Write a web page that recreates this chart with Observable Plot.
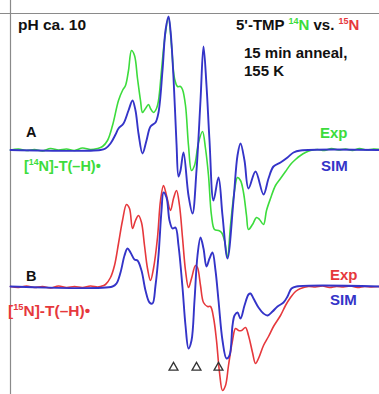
<!DOCTYPE html>
<html>
<head>
<meta charset="utf-8">
<script src="https://cdn.jsdelivr.net/npm/d3@7"></script>
<script src="https://cdn.jsdelivr.net/npm/@observablehq/plot@0.6"></script>
<style>
  html, body { margin: 0; padding: 0; background: #fff; }
  #chart { width: 379px; height: 394px; }
  svg text.lbl { font-family: "Liberation Sans", Arial, Helvetica, sans-serif; font-weight: bold; }
</style>
</head>
<body>
<div id="chart"></div>
<script>
// Field position (arbitrary units along the magnetic-field axis) and signal amplitude
// Spectrum A: [14N]-T(-H)•   Spectrum B: [15N]-T(-H)•

const expA = [
  [0,0],[8,1],[16,-0.5],[24,0.5],[32,-1],[40,1.5],[48,0],[56,1],[64,-0.5],[72,2],[80,0.5],[87,1.5],
  [92,3.5],[97,9.5],[102,24.5],[108,49.5],[112,59.5],[115,64.5],[118,79.5],[121,99.5],[124,94.5],
  [127,71.5],[130,49.5],[132,37.5],[135,41.5],[138,45.5],[140,41.5],[143,37.5],[146,41.5],[148,49.5],
  [151,79.5],[154,109.5],[158,132.5],[161,104.5],[164,71.5],[167,63.5],[170,63.5],[172,60.5],
  [175,44.5],[178,4.5],[181,-20.5],[184,-15.5],[188,7.5],[192,18.5],[195,1.5],[198,-25.5],
  [201,-65.5],[204,-79.5],[208,-80.5],[211,-82.5],[214,-90.5],[217,-107.5],[220,-75.5],[224,-40.5],
  [227,-27.5],[230,-30.5],[233,-42.5],[236,-65.5],[238,-79.5],[242,-74.5],[246,-67.5],[249,-69.5],
  [253,-74.5],[256,-60.5],[260,-48.5],[265,-35.5],[270,-28.5],[275,-21.5],[280,-14.5],[285,-9.5],
  [290,-5.5],[295,-2.5],[300,-0.5],[307,0.5],[314,-0.5],[321,1.5],[328,0],[335,1],[342,-0.5],
  [349,1.5],[356,0],[363,1],[369,0.5]
];

const simA = [
  [0,0],[90,0],[95,1.5],[100,6.5],[105,15.5],[108,21.5],[113,26.5],[118,39.5],[122,49.5],[125,39.5],
  [128,16.5],[132,-3.5],[136,9.5],[140,23.5],[145,27.5],[148,37.5],[152,79.5],[155,119.5],[158,133.5],
  [160,119.5],[163,72.5],[166,6.5],[168,-26.5],[170,-20.5],[173,-2.5],[178,-45.5],[182,-63.5],
  [186,-20.5],[190,49.5],[193,103.5],[196,64.5],[199,9.5],[203,-50.5],[208,-27.5],[212,-65.5],
  [217,-108.5],[223,-50.5],[227,-5.5],[230,6.5],[234,-10.5],[238,-38.5],[245,-21.5],[253,-44.5],
  [258,-28.5],[263,-16.5],[270,-12.5],[277,-7.5],[283,-2.5],[290,-0.5],[369,0]
];

const expB = [
  [0,0],[8,-1],[16,0.5],[24,-1],[32,0],[40,-1.5],[48,0.5],[56,-1],[64,0],[72,-1],[80,0.5],[87,-0.5],
  [90,0],[95,2],[100,9],[104,21],[108,43],[112,66],[116,82],[119,78],[122,58],[125,66],[128,71],
  [131,64],[134,41],[137,18],[140,6],[143,18],[147,49],[150,86],[153,101],[156,91],[160,76],[163,88],
  [166,96],[169,81],[172,49],[175,16],[178,-1],[181,8],[185,21],[187,19],[190,1],[193,-16],[197,-20],
  [200,-20],[203,-31],[206,-54],[209,-86],[212,-104],[215,-99],[218,-79],[222,-54],[225,-42],
  [228,-44],[231,-44],[235,-41],[238,-49],[242,-66],[245,-77],[248,-72],[253,-59],[258,-50],
  [263,-40],[270,-29],[275,-19],[280,-11],[285,-5],[290,-2],[298,0],[305,-0.5],[312,0.5],[319,-1],
  [326,0],[333,-0.5],[340,0.5],[347,-1],[354,0],[361,-0.5],[369,0]
];

const simB = [
  [0,0],[102,0],[106,3],[110,14],[114,31],[117,38],[120,34],[124,27],[127,26],[131,16],[135,-4],
  [139,-16],[142,-17],[145,1],[148,31],[151,76],[153,94],[156,89],[159,66],[162,58],[165,59],
  [168,41],[172,-1],[175,-39],[178,-62],[181,-54],[184,-14],[187,31],[190,49],[193,38],[196,20],
  [199,28],[202,34],[205,16],[208,-14],[212,-54],[216,-72],[219,-69],[222,-39],[224,-29],[227,-26],
  [230,-32],[234,-19],[238,-8],[240,-7],[243,-12],[248,-21],[253,-27],[257,-29],[262,-25],
  [267,-20],[273,-16],[277,-10],[281,-2],[286,0],[369,0]
];

// Marked line positions (open triangles below spectrum B)
const markerFields = [163, 186, 208];
const markerLevel = -81;

// Vertical stacking offset of spectrum A above spectrum B (amplitude units)
const offsetA = 136.5;

const GREEN = "#3cdc3c", BLUE = "#3434c8", RED = "#e6383c";

const toRows = (arr, off) => arr.map(([f, a]) => ({f, v: a + off}));

const chart = Plot.plot({
  width: 379,
  height: 394,
  margin: 0,
  style: {background: "#fff"},
  x: {domain: [0, 369], range: [10, 379], axis: null},
  y: {domain: [-108, 273], range: [394, 13], axis: null},
  marks: [
    Plot.ruleX([0], {stroke: "#8a8a8a", strokeWidth: 1.2}),
    Plot.ruleY([273], {stroke: "#8a8a8a", strokeWidth: 1.2}),
    Plot.line(toRows(expA, offsetA), {x: "f", y: "v", stroke: GREEN, strokeWidth: 1.6, curve: "catmull-rom"}),
    Plot.line(toRows(simA, offsetA), {x: "f", y: "v", stroke: BLUE, strokeWidth: 1.9, curve: "catmull-rom"}),
    Plot.line(toRows(expB, 0), {x: "f", y: "v", stroke: RED, strokeWidth: 1.6, curve: "catmull-rom"}),
    Plot.line(toRows(simB, 0), {x: "f", y: "v", stroke: BLUE, strokeWidth: 1.9, curve: "catmull-rom"}),
    Plot.dot(markerFields, {x: d => d, y: () => markerLevel, symbol: "triangle", r: 3.3, stroke: "#333", strokeWidth: 1.3, fill: "none"})
  ]
});

document.getElementById("chart").appendChild(chart);

// Text annotations
const svg = d3.select(chart);
function label(x, y, size, parts) {
  const t = svg.append("text").attr("class", "lbl")
    .attr("x", x).attr("y", y).attr("font-size", size)
    .attr("text-anchor", "start");
  parts.forEach(p => {
    const ts = t.append("tspan").text(p.t).attr("fill", p.c || "#111");
    if (p.sup) ts.attr("font-size", size * 0.6).attr("dy", -size * 0.38);
    else if (p.after) ts.attr("dy", size * 0.38);
  });
  return t;
}
label(18, 29.5, 15.5, [{t: "pH ca. 10"}]);
label(236, 30, 15, [{t: "5'-TMP "}, {t: "14", c: GREEN, sup: true}, {t: "N", c: GREEN, after: true}, {t: " vs. "}, {t: "15", c: RED, sup: true}, {t: "N", c: RED, after: true}]);
label(244, 57.5, 15, [{t: "15 min anneal,"}]);
label(244, 76, 15, [{t: "155 K"}]);
label(26, 137, 14.5, [{t: "A"}]);
label(24, 171, 14.5, [{t: "[", c: GREEN}, {t: "14", c: GREEN, sup: true}, {t: "N]-T(–H)•", c: GREEN, after: true}]);
label(320, 138, 15, [{t: "Exp", c: GREEN}]);
label(321, 171, 15, [{t: "SIM", c: BLUE}]);
label(26, 281, 14.5, [{t: "B"}]);
label(8, 316, 15.5, [{t: "[", c: RED}, {t: "15", c: RED, sup: true}, {t: "N]-T(–H)•", c: RED, after: true}]);
label(330, 280, 15, [{t: "Exp", c: RED}]);
label(330, 305, 15, [{t: "SIM", c: BLUE}]);
</script>
</body>
</html>
